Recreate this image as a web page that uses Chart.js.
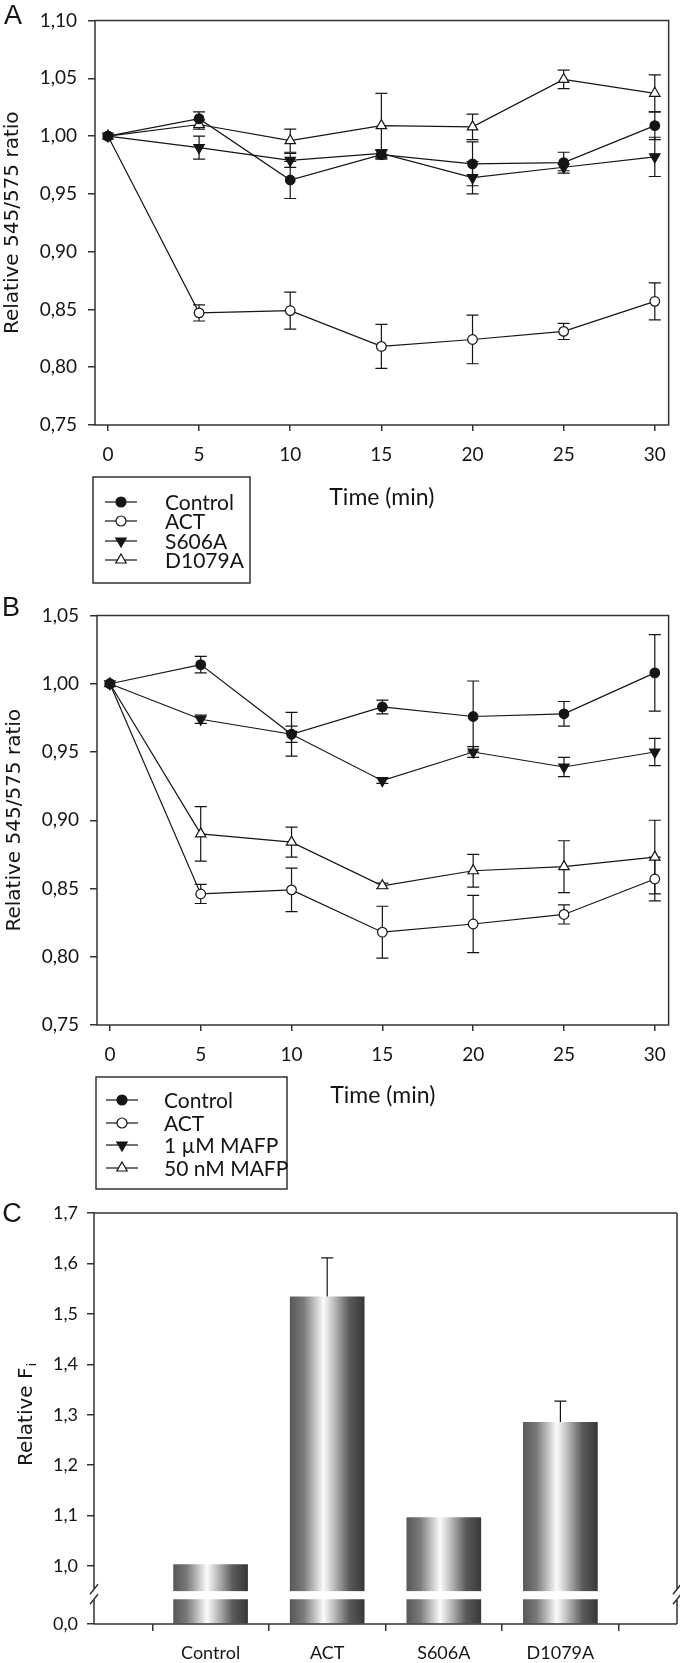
<!DOCTYPE html>
<html>
<head>
<meta charset="utf-8">
<title>Relative 545/575 ratio and relative Fi</title>
<script src="https://cdn.jsdelivr.net/npm/chart.js@4.4.1/dist/chart.umd.min.js"></script>
<style>
  html, body { margin: 0; padding: 0; background: #fff; }
  body { position: relative; width: 680px; height: 1663px; overflow: hidden; }
  canvas { position: absolute; left: 0; }
  #chart-a { top: 0; }
  #chart-b { top: 595px; }
  #chart-c { top: 1195px; }
</style>
</head>
<body>
<canvas id="chart-a" width="680" height="595"></canvas>
<canvas id="chart-b" width="680" height="600"></canvas>
<canvas id="chart-c" width="680" height="468"></canvas>
<script>
// time course (min) for A and B
const timePoints = [0, 5, 10, 15, 20, 25, 30];
const ratioTicksA = [0.75, 0.80, 0.85, 0.90, 0.95, 1.00, 1.05, 1.10];
const ratioTicksB = [0.75, 0.80, 0.85, 0.90, 0.95, 1.00, 1.05];

// A
const namesA = ['Control', 'ACT', 'S606A', 'D1079A'];
const controlA = [1.000, 1.015, 0.962, 0.984, 0.976, 0.977, 1.009];
const controlAErr = [0, 0.006, 0.016, 0.004, 0.019, 0.009, 0.012];
const actA = [1.000, 0.847, 0.849, 0.818, 0.824, 0.831, 0.857];
const actAErr = [0, 0.007, 0.016, 0.019, 0.021, 0.007, 0.016];
const s606aA = [1.000, 0.990, 0.979, 0.985, 0.964, 0.973, 0.982];
const s606aAErr = [0, 0.010, 0.006, 0.003, 0.014, 0.003, 0.017];
const d1079aA = [1.000, 1.010, 0.996, 1.009, 1.008, 1.049, 1.037];
const d1079aAErr = [0, 0.004, 0.010, 0.028, 0.011, 0.008, 0.016];

// B
const namesB = ['Control', 'ACT', '1 µM MAFP', '50 nM MAFP'];
const controlB = [1.000, 1.014, 0.963, 0.983, 0.976, 0.978, 1.008];
const controlBErr = [0, 0.006, 0.016, 0.005, 0.026, 0.009, 0.028];
const actB = [1.000, 0.846, 0.849, 0.818, 0.824, 0.831, 0.857];
const actBErr = [0, 0.007, 0.016, 0.019, 0.021, 0.007, 0.016];
const mafp1B = [1.000, 0.974, 0.963, 0.929, 0.950, 0.939, 0.950];
const mafp1BErr = [0, 0.003, 0.006, 0.002, 0.004, 0.007, 0.010];
const mafp50B = [1.000, 0.890, 0.884, 0.852, 0.863, 0.866, 0.873];
const mafp50BErr = [0, 0.020, 0.011, 0.002, 0.012, 0.019, 0.027];

// C
const barLabels = ['Control', 'ACT', 'S606A', 'D1079A'];
const barValues = [1.003, 1.534, 1.096, 1.285];
const barErrors = [0, 0.077, 0, 0.042];
const fiTicksTop = [1.0, 1.1, 1.2, 1.3, 1.4, 1.5, 1.6, 1.7];
const fiTicksBottom = [0.0];

const INK = '#151515';
const AXIS = '#333';

const markerStyles = [
    { shape: 'circle', rotation: 0, radius: 4.8, fill: INK },
    { shape: 'circle', rotation: 0, radius: 4.8, fill: '#fff' },
    { shape: 'triangle', rotation: 180, radius: 6, fill: INK },
    { shape: 'triangle', rotation: 0, radius: 6, fill: '#fff' },
];

function fmt(digits) {
    return v => Number(v).toFixed(digits).replace('.', ',');
}

function lineSet(values, errors, m) {
    return {
        data: timePoints.map((t, i) => ({ x: t, y: values[i] })),
        errors: errors,
        borderColor: INK,
        borderWidth: 1.2,
        pointStyle: m.shape,
        pointRotation: m.rotation,
        pointRadius: m.radius,
        pointBackgroundColor: m.fill,
        pointBorderColor: INK,
        pointBorderWidth: 1.2,
        tension: 0,
    };
}

function drawMarker(ctx, m, x, y) {
    ctx.beginPath();
    if (m.shape === 'circle') {
        ctx.arc(x, y, m.radius, 0, Math.PI * 2);
    } else {
        let rad = m.rotation * Math.PI / 180;
        for (let k = 0; k < 3; k++) {
            const px = x + Math.sin(rad) * m.radius;
            const py = y - Math.cos(rad) * m.radius;
            if (k === 0) ctx.moveTo(px, py); else ctx.lineTo(px, py);
            rad += Math.PI * 2 / 3;
        }
        ctx.closePath();
    }
    ctx.fillStyle = m.fill;
    ctx.fill();
    ctx.stroke();
}

// error bars, drawn under the lines and markers
const errorBars = {
    id: 'errorBars',
    beforeDatasetsDraw(chart, args, opts) {
        const ctx = chart.ctx;
        ctx.save();
        ctx.strokeStyle = INK;
        ctx.lineWidth = 1.2;
        chart.data.datasets.forEach((ds, di) => {
            if (!ds.errors) return;
            const meta = chart.getDatasetMeta(di);
            const xs = chart.scales[meta.xAxisID];
            const ys = chart.scales[meta.yAxisID];
            ds.data.forEach((p, i) => {
                const e = ds.errors[i];
                if (!e) return;
                const x = xs.getPixelForValue(p.x);
                const hi = ys.getPixelForValue(p.y + e);
                const lo = ys.getPixelForValue(opts.upOnly ? p.y : p.y - e);
                const cap = opts.cap;
                ctx.beginPath();
                ctx.moveTo(x, hi);
                ctx.lineTo(x, lo);
                ctx.moveTo(x - cap, hi);
                ctx.lineTo(x + cap, hi);
                if (!opts.upOnly) {
                    ctx.moveTo(x - cap, lo);
                    ctx.lineTo(x + cap, lo);
                }
                ctx.stroke();
            });
        });
        ctx.restore();
    }
};

const frame = {
    id: 'frame',
    beforeDatasetsDraw(chart) {
        const { left, top, right, bottom } = chart.chartArea;
        const ctx = chart.ctx;
        ctx.save();
        ctx.strokeStyle = AXIS;
        ctx.lineWidth = 1.5;
        ctx.strokeRect(left, top, right - left, bottom - top);
        ctx.restore();
    }
};

// panel letter + boxed legend
const decor = {
    id: 'decor',
    afterDraw(chart, args, o) {
        const ctx = chart.ctx;
        ctx.save();
        ctx.fillStyle = INK;
        ctx.font = '27px "Liberation Sans"';
        ctx.textAlign = 'center';
        ctx.textBaseline = 'middle';
        ctx.fillText(o.letter, o.letterX, o.letterY);
        const lg = o.legend;
        if (lg) {
            ctx.strokeStyle = AXIS;
            ctx.lineWidth = 1.5;
            ctx.strokeRect(lg.x, lg.y, lg.w, lg.h);
            ctx.font = '21px Lato';
            ctx.textAlign = 'left';
            ctx.lineWidth = 1.2;
            ctx.strokeStyle = INK;
            lg.names.forEach((name, i) => {
                const y = lg.rows[i];
                ctx.beginPath();
                ctx.moveTo(lg.x1, y);
                ctx.lineTo(lg.x2, y);
                ctx.stroke();
                drawMarker(ctx, Object.assign({}, markerStyles[i], { radius: markerStyles[i].shape === 'circle' ? 5 : 6 }), (lg.x1 + lg.x2) / 2, y);
                ctx.fillStyle = INK;
                ctx.fillText(name, lg.textX, y + 1);
            });
        }
        ctx.restore();
    }
};

function timeChart(canvasId, datasets, yTicks, pad, xHeight, decorOpts) {
    return new Chart(document.getElementById(canvasId), {
        type: 'line',
        data: { datasets: datasets },
        plugins: [frame, errorBars, decor],
        options: {
            responsive: false,
            animation: false,
            events: [],
            layout: { padding: pad },
            scales: {
                x: {
                    type: 'linear',
                    min: -0.71,
                    max: 30.76,
                    afterBuildTicks: s => { s.ticks = timePoints.map(v => ({ value: v })); },
                    afterFit: s => { s.height = xHeight; },
                    ticks: { font: { family: 'Lato', size: 19, lineHeight: 1 }, color: INK, padding: 14, maxRotation: 0, autoSkip: false },
                    grid: { drawOnChartArea: false, tickLength: 6, color: AXIS, lineWidth: 1.5 },
                    border: { display: false },
                    title: { display: true, text: 'Time (min)', font: { family: 'Lato', size: 23 }, color: INK, padding: 0 }
                },
                y: {
                    type: 'linear',
                    min: yTicks[0],
                    max: yTicks[yTicks.length - 1],
                    afterBuildTicks: s => { s.ticks = yTicks.map(v => ({ value: v })); },
                    afterFit: s => { s.width = 95; },
                    ticks: { font: { family: 'Lato', size: 19, lineHeight: 1 }, color: INK, padding: 11, callback: fmt(2) },
                    grid: { drawOnChartArea: false, tickLength: 7, color: AXIS, lineWidth: 1.5 },
                    border: { display: false },
                    title: { display: true, text: 'Relative 545/575 ratio', font: { family: 'DejaVu Sans', size: 20 }, color: INK, padding: { top: 1, bottom: 0 } }
                }
            },
            plugins: {
                legend: { display: false },
                tooltip: { enabled: false },
                errorBars: { cap: 6, upOnly: false },
                decor: decorOpts
            }
        }
    });
}

timeChart('chart-a', [
    lineSet(controlA, controlAErr, markerStyles[0]),
    lineSet(actA, actAErr, markerStyles[1]),
    lineSet(s606aA, s606aAErr, markerStyles[2]),
    lineSet(d1079aA, d1079aAErr, markerStyles[3]),
], ratioTicksA, { top: 9, left: 0, right: 6, bottom: 84 }, 86, {
    letter: 'A', letterX: 13, letterY: 17,
    legend: { x: 93, y: 477, w: 157, h: 106, rows: [502, 521, 541, 560], x1: 105, x2: 137, textX: 165, names: namesA }
});

timeChart('chart-b', [
    lineSet(controlB, controlBErr, markerStyles[0]),
    lineSet(actB, actBErr, markerStyles[1]),
    lineSet(mafp1B, mafp1BErr, markerStyles[2]),
    lineSet(mafp50B, mafp50BErr, markerStyles[3]),
], ratioTicksB, { top: 14, left: 2, right: 4, bottom: 86 }, 84, {
    letter: 'B', letterX: 11, letterY: 14,
    legend: { x: 96, y: 482, w: 191, h: 112, rows: [505, 528, 550, 573], x1: 106, x2: 138, textX: 164, names: namesB }
});

// C : bars with a broken y axis (two stacked scales)
const barPoints = barLabels.map((name, i) => ({ x: i + 1, y: barValues[i] }));

function barFill(context) {
    const chart = context.chart;
    const xs = chart.scales.x;
    if (!xs || !context.raw) return '#888';
    const cx = xs.getPixelForValue(context.raw.x);
    if (!Number.isFinite(cx)) return '#888';
    const g = chart.ctx.createLinearGradient(cx - 37, 0, cx + 37, 0);
    g.addColorStop(0, '#585858');
    g.addColorStop(0.18, '#7a7a7a');
    g.addColorStop(0.45, '#fbfbfb');
    g.addColorStop(0.55, '#d0d0d0');
    g.addColorStop(0.8, '#5a5a5a');
    g.addColorStop(1, '#383838');
    return g;
}

const brokenFrame = {
    id: 'brokenFrame',
    afterDatasetsDraw(chart) {
        const { left, top, right, bottom } = chart.chartArea;
        const cut = chart.scales.yTop.bottom;
        const ctx = chart.ctx;
        ctx.save();
        ctx.strokeStyle = AXIS;
        ctx.lineWidth = 1.5;
        ctx.beginPath();
        ctx.moveTo(left, top);
        ctx.lineTo(right, top);
        ctx.moveTo(left, bottom);
        ctx.lineTo(right, bottom);
        [left, right].forEach(x => {
            ctx.moveTo(x, top);
            ctx.lineTo(x, cut - 2);
            ctx.moveTo(x - 4, cut + 3);
            ctx.lineTo(x + 4, cut - 7);
            ctx.moveTo(x - 4, cut + 13);
            ctx.lineTo(x + 4, cut + 3);
            ctx.moveTo(x, cut + 8);
            ctx.lineTo(x, bottom);
        });
        ctx.stroke();

        // panel letter and y title with subscript
        ctx.fillStyle = INK;
        ctx.font = '27px "Liberation Sans"';
        ctx.textAlign = 'center';
        ctx.textBaseline = 'middle';
        ctx.fillText('C', 12, 20);

        ctx.translate(24, 220);
        ctx.rotate(-Math.PI / 2);
        ctx.textAlign = 'left';
        ctx.textBaseline = 'alphabetic';
        ctx.font = '20px "DejaVu Sans"';
        const main = 'Relative F';
        const w1 = ctx.measureText(main).width;
        ctx.font = '13px "DejaVu Sans"';
        const w2 = ctx.measureText('i').width;
        const x0 = -(w1 + w2) / 2;
        ctx.font = '20px "DejaVu Sans"';
        ctx.fillText(main, x0, 8);
        ctx.font = '13px "DejaVu Sans"';
        ctx.fillText('i', x0 + w1 + 1, 12);
        ctx.restore();
    }
};

const fiTickStyle = { font: { family: 'Lato', size: 18, lineHeight: 1 }, color: INK, padding: 9, callback: fmt(1) };
const fiGrid = { drawOnChartArea: false, tickLength: 7, color: AXIS, lineWidth: 1.5 };

new Chart(document.getElementById('chart-c'), {
    type: 'bar',
    data: {
        datasets: [{
            data: barPoints,
            yAxisID: 'yTop',
            base: 0.95,
            errors: barErrors,
            backgroundColor: barFill,
            borderWidth: 0,
            barThickness: 74,
            grouped: false,
            clip: 0
        }, {
            data: barPoints,
            yAxisID: 'yBot',
            backgroundColor: barFill,
            borderWidth: 0,
            barThickness: 74,
            grouped: false,
            clip: { left: 0, top: -8, right: 0, bottom: 0 }
        }]
    },
    plugins: [errorBars, brokenFrame],
    options: {
        responsive: false,
        animation: false,
        events: [],
        layout: { padding: { top: 15, left: 0, right: 3, bottom: 0 } },
        scales: {
            x: {
                type: 'linear',
                offset: false,
                min: 0,
                max: barLabels.length + 1,
                afterBuildTicks: s => { s.ticks = barLabels.map((n, i) => ({ value: i + 1 })); },
                afterFit: s => { s.height = 39; },
                ticks: { font: { family: 'Lato', size: 18, lineHeight: 1 }, color: INK, padding: 13, maxRotation: 0, autoSkip: false, callback: (v, i) => barLabels[i] },
                grid: fiGrid,
                border: { display: false }
            },
            yBot: {
                type: 'linear',
                position: 'left',
                stack: 'fi',
                stackWeight: 33,
                min: 0,
                max: 0.065,
                afterBuildTicks: s => { s.ticks = fiTicksBottom.map(v => ({ value: v })); },
                afterFit: s => { s.width = 94; },
                ticks: fiTickStyle,
                grid: fiGrid,
                border: { display: false }
            },
            yTop: {
                type: 'linear',
                position: 'left',
                stack: 'fi',
                stackWeight: 381,
                min: 0.95,
                max: 1.7,
                afterBuildTicks: s => { s.ticks = fiTicksTop.map(v => ({ value: v })); },
                afterFit: s => { s.width = 94; },
                ticks: fiTickStyle,
                grid: fiGrid,
                border: { display: false }
            }
        },
        plugins: {
            legend: { display: false },
            tooltip: { enabled: false },
            errorBars: { cap: 6, upOnly: true }
        }
    }
});
</script>
</body>
</html>
